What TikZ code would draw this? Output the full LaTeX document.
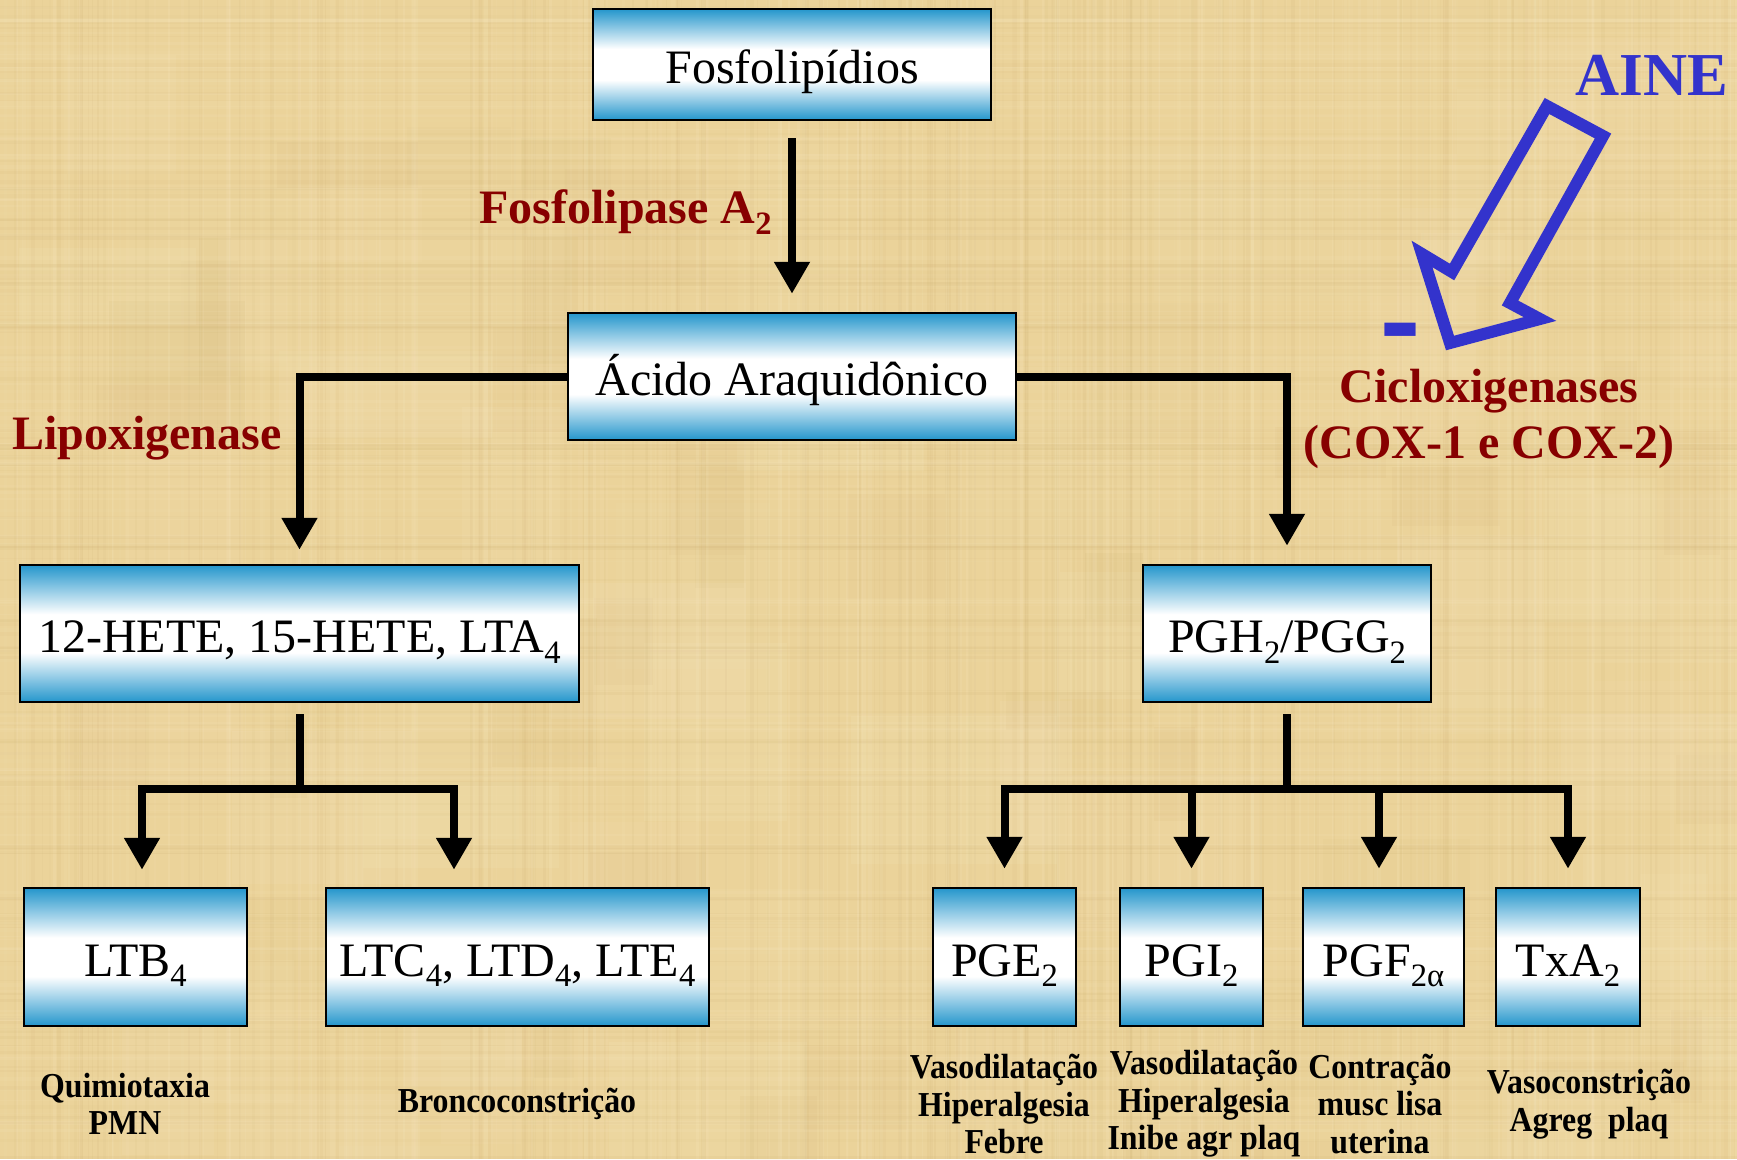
\documentclass[tikz,border=0pt]{standalone}
\usepackage{fontspec}
\setmainfont{Liberation Serif}
\newfontfamily\condfont{Liberation Serif}[FakeStretch=0.91]
\usetikzlibrary{arrows.meta,calc}

\definecolor{parch}{RGB}{235,211,154}
\definecolor{parchdark}{RGB}{196,164,100}
\definecolor{parchlight}{RGB}{250,236,200}
\definecolor{boxblue}{RGB}{36,150,204}
\definecolor{enzred}{RGB}{135,0,0}
\definecolor{aineblue}{RGB}{51,51,204}

% blue - white - blue band used inside every box
\pgfdeclareverticalshading{boxshade}{100bp}{color(0bp)=(boxblue); color(25bp)=(boxblue); color(43bp)=(white); color(57bp)=(white); color(75bp)=(boxblue); color(100bp)=(boxblue)}

% lowered subscript in the current font
\newcommand\dn[1]{\raisebox{-0.22em}{\scalebox{0.68}{#1}}}

\tikzset{
  cbox/.style={draw=black, line width=2.5pt, shading=boxshade, inner sep=0pt,
    text height=43pt, text depth=5pt, font=\fontsize{48}{52}\selectfont},
  link/.style={line width=8pt, black},
  arr/.style={link, -{Triangle[width=34pt,length=32pt]}},
  enz/.style={text=enzred, inner sep=0pt, font=\fontsize{48}{56}\selectfont\bfseries},
  eff/.style={align=center, inner sep=0pt, font=\condfont\fontsize{35}{37.5}\selectfont\bfseries}
}

\begin{document}
\begin{tikzpicture}[x=1pt,y=-1pt]
\useasboundingbox (0,0) rectangle (1737,1159);

% parchment background with faint fibres
\fill[parch] (0,0) rectangle (1737,1159);
\begin{scope}
  \clip (0,0) rectangle (1737,1159);
  \pgfmathsetseed{12}
  % broad soft patches
  \foreach \k in {1,...,60}{
    \pgfmathsetmacro\xa{rnd*1737}
    \pgfmathsetmacro\ya{rnd*1159}
    \pgfmathsetmacro\wa{60+rnd*160}
    \pgfmathsetmacro\ha{40+rnd*140}
    \pgfmathsetmacro\oa{0.05+0.08*rnd}
    \fill[parchlight, opacity=\oa] (\xa,\ya) rectangle ++(\wa,\ha);
  }
  \foreach \k in {1,...,40}{
    \pgfmathsetmacro\xa{rnd*1737}
    \pgfmathsetmacro\ya{rnd*1159}
    \pgfmathsetmacro\wa{30+rnd*120}
    \pgfmathsetmacro\ha{30+rnd*120}
    \pgfmathsetmacro\oa{0.03+0.05*rnd}
    \fill[parchdark, opacity=\oa] (\xa,\ya) rectangle ++(\wa,\ha);
  }
  % vertical and horizontal fibres
  \foreach \k in {1,...,220}{
    \pgfmathsetmacro\xa{rnd*1737}
    \pgfmathsetmacro\wa{1+rnd*3}
    \pgfmathsetmacro\oa{0.05+0.10*rnd}
    \fill[parchlight, opacity=\oa] (\xa,0) rectangle ++(\wa,1159);
  }
  \foreach \k in {1,...,160}{
    \pgfmathsetmacro\xa{rnd*1737}
    \pgfmathsetmacro\wa{1+rnd*3}
    \pgfmathsetmacro\oa{0.03+0.07*rnd}
    \fill[parchdark, opacity=\oa] (\xa,0) rectangle ++(\wa,1159);
  }
  \foreach \k in {1,...,150}{
    \pgfmathsetmacro\ya{rnd*1159}
    \pgfmathsetmacro\ha{1+rnd*3}
    \pgfmathsetmacro\oa{0.04+0.08*rnd}
    \fill[parchlight, opacity=\oa] (0,\ya) rectangle ++(1737,\ha);
  }
  \foreach \k in {1,...,110}{
    \pgfmathsetmacro\ya{rnd*1159}
    \pgfmathsetmacro\ha{1+rnd*3}
    \pgfmathsetmacro\oa{0.03+0.06*rnd}
    \fill[parchdark, opacity=\oa] (0,\ya) rectangle ++(1737,\ha);
  }
\end{scope}

% boxes
\node[cbox, minimum width=398pt, minimum height=111pt] (fos) at (792,64.5) {Fosfolipídios};
\node[cbox, minimum width=448pt, minimum height=127pt] (aa) at (792,376.5) {Ácido Araquidônico};
\node[cbox, minimum width=559pt, minimum height=137pt] (hete) at (299.5,633.5) {12-HETE, 15-HETE, LTA\dn{4}};
\node[cbox, minimum width=288pt, minimum height=137pt] (pgh) at (1287,633.5) {PGH\dn{2}/PGG\dn{2}};
\node[cbox, minimum width=223pt, minimum height=138pt] (ltb) at (135.5,957) {LTB\dn{4}};
\node[cbox, minimum width=383pt, minimum height=138pt] (ltc) at (517.5,957) {LTC\dn{4}, LTD\dn{4}, LTE\dn{4}};
\node[cbox, minimum width=143pt, minimum height=138pt] (pge) at (1004.5,957) {PGE\dn{2}};
\node[cbox, minimum width=143pt, minimum height=138pt] (pgi) at (1191.5,957) {PGI\dn{2}};
\node[cbox, minimum width=161pt, minimum height=138pt] (pgf) at (1383.5,957) {PGF\dn{2α}};
\node[cbox, minimum width=144pt, minimum height=138pt] (txa) at (1568,957) {TxA\dn{2}};

% branch points
\coordinate (jl) at (299.5,789);
\coordinate (jr) at (1287,789);

% connectors
\draw[arr, shorten <=17pt, shorten >=18pt] (fos.south) -- (aa.north);
\draw[arr, shorten >=14pt] (aa.west) -| (hete.north);
\draw[arr, shorten >=18pt] (aa.east) -| (pgh.north);

\draw[link, shorten <=11pt] (hete.south) -- (jl);
\draw[arr, shorten >=17pt] (jl) -| ([xshift=6.5pt]ltb.north);
\draw[arr, shorten >=17pt] (jl) -| ([xshift=-63.5pt]ltc.north);

\draw[link, shorten <=11pt] (pgh.south) -- (jr);
\draw[arr, shorten >=18pt] (jr) -| (pge.north);
\draw[arr, shorten >=18pt] (jr) -| (pgi.north);
\draw[arr, shorten >=18pt] (jr) -| ([xshift=-4.5pt]pgf.north);
\draw[arr, shorten >=18pt] (jr) -| (txa.north);

% enzyme labels
\node[enz, anchor=east] (fla) at (772,212) {Fosfolipase A\dn{2}};
\node[enz, anchor=west] (lipo) at (12,438) {Lipoxigenase};
\node[enz] (cox) at (1489,391) {Cicloxigenases};
\node[enz] (coxb) at (1489,447) {(COX-1 e COX-2)};

% inhibitor
\node[text=aineblue, inner sep=0pt, font=\fontsize{61}{61}\selectfont\bfseries] (aine) at (1652,75) {AINE};
\draw[aineblue, line width=12pt, line join=miter]
  (1547,106) -- (1603,136) -- (1510,303) -- (1540,319) -- (1450,343)
  -- (1422,254) -- (1452,272) -- cycle;
\node[text=aineblue, inner sep=0pt, anchor=base, font=\fontsize{120}{120}\selectfont\bfseries] (minus) at (1400,366) {\scalebox{1}[1.3]{-}};

% effects
\node[eff] (e1) at (125,1104) {Quimiotaxia\\PMN};
\node[eff] (e2) at (517,1104) {Broncoconstrição};
\node[eff] (e3) at (1004,1104) {Vasodilatação\\Hiperalgesia\\Febre};
\node[eff] (e4) at (1204,1104) {Vasodilatação\\Hiperalgesia\\Inibe agr plaq};
\node[eff] (e5) at (1380,1104) {Contração\\musc lisa\\uterina};
\node[eff] (e6) at (1589,1104) {Vasoconstrição\\Agreg\ \ plaq};
\end{tikzpicture}
\end{document}
